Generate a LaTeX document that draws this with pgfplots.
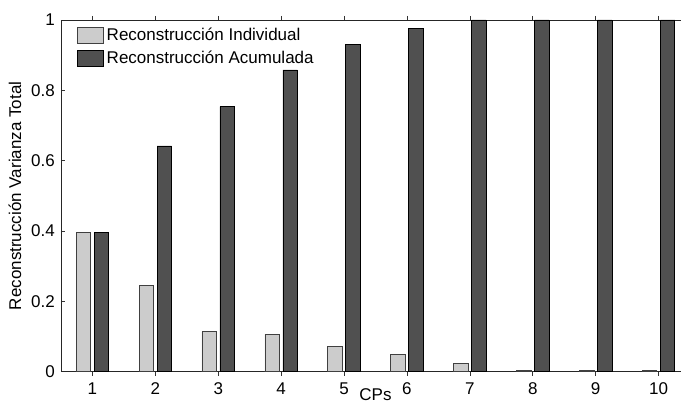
\documentclass[border=0pt]{standalone}
\usepackage{fontspec}
\setmainfont{Liberation Sans}
\usepackage{pgfplots}
\pgfplotsset{compat=1.18}
\definecolor{lightbar}{RGB}{204,204,204}
\definecolor{darkbar}{RGB}{80,80,80}
\begin{document}
\begin{tikzpicture}[font=\fontsize{17}{20}\selectfont]
\useasboundingbox (-61pt,-33.3pt) rectangle (620pt,371.7pt);
\clip (-61pt,-33.3pt) rectangle (620pt,371.7pt);
\begin{axis}[
  at={(0pt,0pt)}, anchor=south west,
  scale only axis,
  width=629pt, height=351.7pt,
  xmin=0.5, xmax=10.5,
  ymin=0, ymax=1,
  xtick={1,2,3,4,5,6,7,8,9,10},
  ytick={0,0.2,0.4,0.6,0.8,1},
  yticklabels={0,0.2,0.4,0.6,0.8,1},
  /pgf/number format/assume math mode=true,
  tick align=inside,
  major tick length=4pt,
  tick style={black!80, line width=0.6pt},
  axis line style={black!85, line width=0.7pt},
  xticklabel style={inner sep=0pt, yshift=-6.5pt},
  yticklabel style={inner sep=0pt, xshift=-6pt},
  xlabel={CPs},
  ylabel={Reconstrucción Varianza Total},
  xlabel style={at={(axis description cs:0.5,0)}, anchor=north, inner sep=0pt, yshift=-17pt},
  ylabel style={at={(axis description cs:0,0.5)}, anchor=center, inner sep=0pt, yshift=46pt},
  ybar, bar width=14.5pt,
  legend cell align=left,
  legend image code/.code={\draw[#1] (0pt,-8pt) rectangle (26pt,8pt);},
  legend style={draw=none, fill=none, at={(axis description cs:0,1)}, anchor=north west,
    xshift=16pt, yshift=-6.7pt, inner sep=0pt, row sep=6pt,
    nodes={inner sep=0pt}},
]
\addplot[fill=lightbar, draw=black!75, line width=0.7pt, bar shift=-9pt] coordinates {
  (1,0.397) (2,0.2445) (3,0.1135) (4,0.107) (5,0.071) (6,0.0494) (7,0.0247) (8,0.003) (9,0.003) (10,0.003)};
\addplot[fill=darkbar, draw=black, line width=0.7pt, bar shift=9pt] coordinates {
  (1,0.397) (2,0.642) (3,0.7535) (4,0.858) (5,0.931) (6,0.977) (7,1) (8,1) (9,1) (10,1)};
\legend{\,Reconstrucción Individual, \,Reconstrucción Acumulada}
\end{axis}
\end{tikzpicture}
\end{document}
